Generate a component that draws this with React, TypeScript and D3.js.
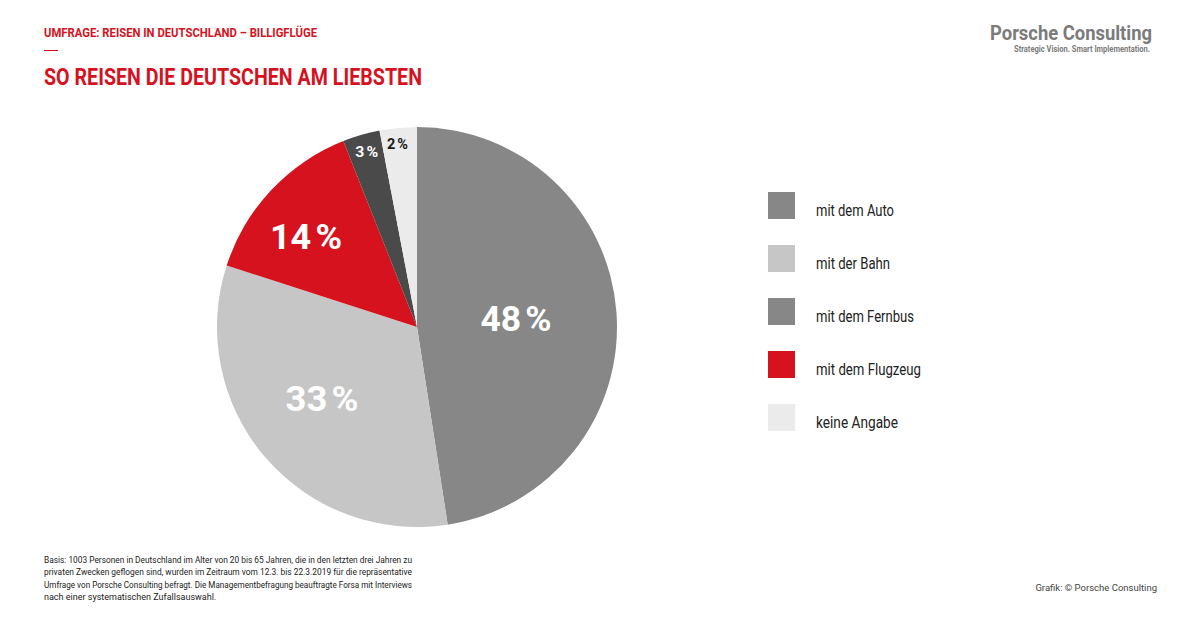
import React from "react";
import * as d3 from "d3";

const categories = ["mit dem Auto", "mit der Bahn", "mit dem Flugzeug", "mit dem Fernbus", "keine Angabe"];
// slice shares as drawn in the picture (measured angles)
const values = [47.5, 32.4, 14.0, 3.0, 3.0];
// printed labels
const labels = ["48", "33", "14", "3", "2"];
const sliceColors = ["#878787", "#c6c6c6", "#d5121e", "#4a4a4a", "#ebebeb"];
const labelColors = ["#ffffff", "#ffffff", "#ffffff", "#ffffff", "#1a1a1a"];

const legendLabels = ["mit dem Auto", "mit der Bahn", "mit dem Fernbus", "mit dem Flugzeug", "keine Angabe"];
const legendColors = ["#878787", "#c6c6c6", "#878787", "#d5121e", "#ebebeb"];
const legendWidths = [78, 74, 98, 105, 82];

const footLines = [
  "Basis: 1003 Personen in Deutschland im Alter von 20 bis 65 Jahren, die in den letzten drei Jahren zu",
  "privaten Zwecken geflogen sind, wurden im Zeitraum vom 12.3. bis 22.3.2019 für die repräsentative",
  "Umfrage von Porsche Consulting befragt. Die Managementbefragung beauftragte Forsa mit Interviews",
  "nach einer systematischen Zufallsauswahl.",
];

const FONT = "Roboto, 'Liberation Sans', sans-serif";

export default function App() {
  const W = 1200, H = 619;
  const cx = 417, cy = 327, r = 200;
  const pie = d3.pie<number>().sort(null).value((d) => d);
  const arcs = pie(values);
  const arc = d3.arc<d3.PieArcDatum<number>>().innerRadius(0).outerRadius(r);

  const labelR = [0.497, 0.593, 0.718, 0.91, 0.92];
  const labelAngleOffset = [-0.7, 3.7, -3.8, 0.2, -0.7];
  const labelSize = [35, 35, 35, 14.5, 14.5];
  const labelGap = [4, 4, 4, 2, 2];
  const labelWidth = [71, 73, 72, 23, 21];

  const legendY = d3.scalePoint<string>().domain(legendLabels).range([205.5, 417.5]);

  return (
    <svg width={W} height={H} style={{ position: "absolute", left: 0, top: 0, background: "#fff" }} fontFamily={FONT}>
      <rect width={W} height={H} fill="#fff" />
      <text x={44} y={37} fill="#d5121e" fontSize={13.5} fontWeight={700} textLength={273} lengthAdjust="spacingAndGlyphs">
        UMFRAGE: REISEN IN DEUTSCHLAND – BILLIGFLÜGE
      </text>
      <line x1={44} x2={58} y1={50.5} y2={50.5} stroke="#d5121e" strokeWidth={1} />
      <text x={44} y={85} fill="#d5121e" fontSize={23} fontWeight={700} textLength={378} lengthAdjust="spacingAndGlyphs">
        SO REISEN DIE DEUTSCHEN AM LIEBSTEN
      </text>

      <text x={1152} y={40} textAnchor="end" fill="#7b7b7b" fontSize={20.5} fontWeight={700} textLength={162} lengthAdjust="spacingAndGlyphs">
        Porsche Consulting
      </text>
      <text x={1150} y={52} textAnchor="end" fill="#7b7b7b" fontSize={9.5} fontWeight={700} textLength={136} lengthAdjust="spacingAndGlyphs">
        Strategic Vision. Smart Implementation.
      </text>

      <g transform={`translate(${cx},${cy})`}>
        {arcs.map((a, i) => (
          <path key={categories[i]} d={arc(a) || ""} fill={sliceColors[i]} />
        ))}
        {arcs.map((a, i) => {
          const mid = (a.startAngle + a.endAngle) / 2 + (labelAngleOffset[i] * Math.PI) / 180;
          const rr = r * labelR[i];
          const x = Math.sin(mid) * rr;
          const y = -Math.cos(mid) * rr;
          return (
            <text key={"l" + i} x={x - labelWidth[i] / 2} y={y} dy="0.36em" fill={labelColors[i]} fontSize={labelSize[i]} fontWeight={700}
              textLength={labelWidth[i]} lengthAdjust="spacingAndGlyphs">
              {labels[i]}
              <tspan dx={labelGap[i]}>%</tspan>
            </text>
          );
        })}
      </g>

      {legendLabels.map((l, i) => {
        const y = legendY(l)!;
        return (
          <g key={l}>
            <rect x={768} y={y - 13.5} width={27} height={27} fill={legendColors[i]} />
            <text x={816} y={y + 10.5} fontSize={16.5} fill="#222" textLength={legendWidths[i]} lengthAdjust="spacingAndGlyphs">{l}</text>
          </g>
        );
      })}

      {footLines.map((t, i) => (
        <text key={i} x={44} y={563 + i * 12.3} fontSize={9} fill="#222" textLength={i < 3 ? 368 : undefined} lengthAdjust="spacingAndGlyphs">
          {t}
        </text>
      ))}
      <text x={1157} y={591} textAnchor="end" fontSize={9.5} fill="#444">Grafik: © Porsche Consulting</text>
    </svg>
  );
}
